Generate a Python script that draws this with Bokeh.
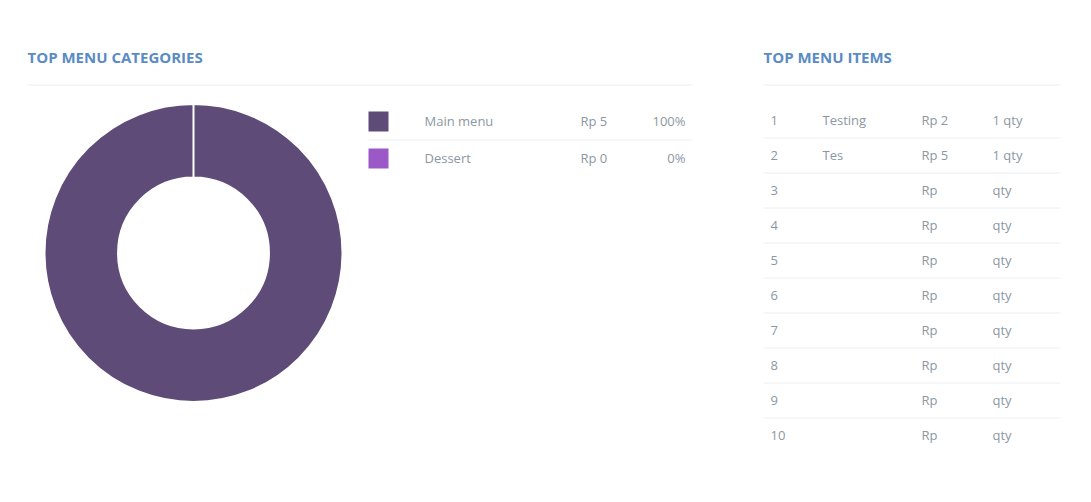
import math
from bokeh.plotting import figure
from bokeh.models import ColumnDataSource
from bokeh.core.properties import value
from bokeh.embed import file_html
from bokeh.resources import INLINE

# ---- data ----
categories = ["Main menu", "Dessert"]
category_totals = [5, 0]
category_colors = ["#5f4b78", "#9b59c8"]

item_ranks = [1, 2, 3, 4, 5, 6, 7, 8, 9, 10]
item_names = ["Testing", "Tes", "", "", "", "", "", "", "", ""]
item_prices = [2, 5, None, None, None, None, None, None, None, None]
item_qtys = [1, 1, None, None, None, None, None, None, None, None]

W, H = 1091, 502
FONT = value("Open Sans")
TITLE_C = "#5a8bc5"
TEXT_C = "#8d97a2"
LINE_C = "#eceef1"

def Y(py):
    return H - py

p = figure(width=W, height=H, x_range=(0, W), y_range=(0, H),
           output_backend="svg", toolbar_location=None, min_border=0)
p.axis.visible = False
p.grid.visible = False
p.outline_line_color = None
p.background_fill_color = "white"
p.border_fill_color = "white"

# titles and rules
p.text(x=[27, 763], y=[Y(56.5), Y(56.5)], text=["TOP MENU CATEGORIES", "TOP MENU ITEMS"],
       text_font=FONT, text_font_size="15px", text_font_style="bold",
       text_color=TITLE_C, text_baseline="middle", text_align="left")
p.segment(x0=[27, 763], y0=[Y(84.5), Y(84.5)], x1=[692, 1060], y1=[Y(84.5), Y(84.5)],
          line_color=LINE_C, line_width=1)

# doughnut (zero slices are not drawn)
total = sum(category_totals)
starts, ends, cols = [], [], []
a = math.pi / 2
for v, c in zip(category_totals, category_colors):
    frac = v / total if total else 0
    if frac > 0:
        starts.append(a)
        ends.append(a - frac * 2 * math.pi)
        cols.append(c)
    a = a - frac * 2 * math.pi
cx, cy = 193, Y(252.5)
src = ColumnDataSource(dict(start=starts, end=ends, color=cols))
p.annular_wedge(x=cx, y=cy, inner_radius=75.5, outer_radius=149,
                start_angle="end", end_angle="start", fill_color="color",
                line_color="white", line_width=2, source=src,
                inner_radius_units="screen", outer_radius_units="screen")

# legend table
row_y = [120.5, 157.5]
p.rect(x=[378] * len(categories), y=[Y(v) for v in [121, 158]], width=20, height=20,
       fill_color=category_colors, line_color=None)
p.text(x=[424] * len(categories), y=[Y(v) for v in row_y], text=categories,
       text_font=FONT, text_font_size="13px", text_color=TEXT_C, text_baseline="middle")
p.text(x=[580] * len(categories), y=[Y(v) for v in row_y],
       text=[f"Rp {v}" for v in category_totals],
       text_font=FONT, text_font_size="13px", text_color=TEXT_C, text_baseline="middle")
pcts = [f"{round(v / total * 100) if total else 0}%" for v in category_totals]
p.text(x=[685] * len(categories), y=[Y(v) for v in row_y], text=pcts,
       text_font=FONT, text_font_size="13px", text_color=TEXT_C, text_baseline="middle",
       text_align="right")
p.segment(x0=[368], y0=[Y(139.5)], x1=[692], y1=[Y(139.5)], line_color=LINE_C, line_width=1)

# items table
iy = [Y(119.5 + 35 * i) for i in range(len(item_ranks))]
p.text(x=[770] * len(item_ranks), y=iy, text=[str(r) for r in item_ranks],
       text_font=FONT, text_font_size="13px", text_color=TEXT_C, text_baseline="middle")
p.text(x=[822] * len(item_ranks), y=iy, text=item_names,
       text_font=FONT, text_font_size="13px", text_color=TEXT_C, text_baseline="middle")
p.text(x=[921] * len(item_ranks), y=iy,
       text=[f"Rp {v}" if v is not None else "Rp" for v in item_prices],
       text_font=FONT, text_font_size="13px", text_color=TEXT_C, text_baseline="middle")
p.text(x=[992] * len(item_ranks), y=iy,
       text=[f"{q} qty" if q is not None else "qty" for q in item_qtys],
       text_font=FONT, text_font_size="13px", text_color=TEXT_C, text_baseline="middle")
sep = [Y(137.5 + 35 * i) for i in range(len(item_ranks) - 1)]
p.segment(x0=[763] * len(sep), y0=sep, x1=[1060] * len(sep), y1=sep,
          line_color=LINE_C, line_width=1)

open("out.html", "w").write(file_html(p, INLINE))
